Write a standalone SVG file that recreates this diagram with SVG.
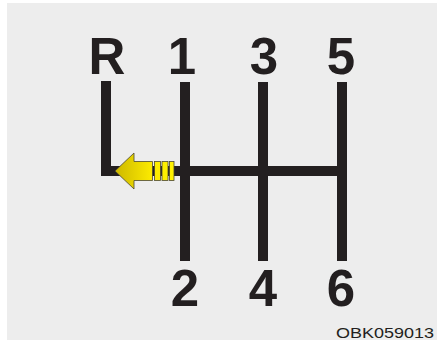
<svg xmlns="http://www.w3.org/2000/svg" width="437" height="341" viewBox="0 0 437 341">
<defs>
<style>
.bar{fill:#231f20}
.lbl{font-family:"Liberation Sans",Arial,sans-serif;font-weight:bold;font-size:51px;fill:#231f20;text-anchor:middle}
.code{font-family:"Liberation Sans",Arial,sans-serif;font-weight:normal;font-size:15px;fill:#231f20}
.arr{fill:url(#yg);stroke:#4a4632;stroke-width:0.8}
</style>
<linearGradient id="yg" x1="115" y1="0" x2="175" y2="0" gradientUnits="userSpaceOnUse">
<stop offset="0" stop-color="#cdb800"/>
<stop offset="0.6" stop-color="#fbe900"/>
<stop offset="1" stop-color="#fff200"/>
</linearGradient>
</defs>
<rect width="437" height="341" fill="#ffffff"/>
<rect x="7" y="3" width="430" height="337" fill="#ededed"/>
<g id="connectors">
<rect class="bar" x="101" y="81" width="10" height="95"/>
<rect class="bar" x="101" y="166" width="246" height="10"/>
<rect class="bar" x="180" y="82" width="10" height="179"/>
<rect class="bar" x="258" y="82" width="10" height="179"/>
<rect class="bar" x="337" y="82" width="10" height="179"/>
</g>
<g id="arrow">
<polygon class="arr" points="115,171 134,153 134,161.5 152.5,161.5 152.5,180.5 134,180.5 134,189"/>
<rect class="arr" x="154.5" y="161.5" width="6" height="19"/>
<rect class="arr" x="162" y="161.5" width="6" height="19"/>
<rect class="arr" x="169.5" y="161.5" width="4.5" height="19"/>
</g>
<g id="node-R"><text class="lbl" x="107" y="74">R</text></g>
<g id="node-1"><text class="lbl" x="182" y="74">1</text></g>
<g id="node-3"><text class="lbl" x="264" y="74">3</text></g>
<g id="node-5"><text class="lbl" x="341" y="74">5</text></g>
<g id="node-2"><text class="lbl" x="185" y="306">2</text></g>
<g id="node-4"><text class="lbl" x="263" y="306">4</text></g>
<g id="node-6"><text class="lbl" x="341" y="306">6</text></g>
<g id="code"><text class="code" transform="translate(336,337.5) scale(1.2,1)">OBK059013</text></g>
</svg>
